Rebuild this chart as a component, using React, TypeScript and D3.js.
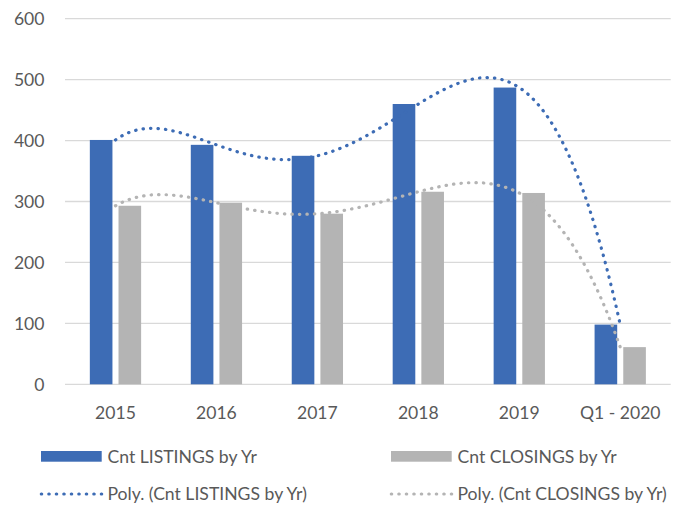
import React from "react";
import * as d3 from "d3";

const categories = ["2015", "2016", "2017", "2018", "2019", "Q1 - 2020"];
const listings = [401, 393, 375, 460, 487, 98];
const closings = [293, 298, 280, 316, 314, 61];
const yTicks = [0, 100, 200, 300, 400, 500, 600];
const legendLabels = [
  "Cnt LISTINGS by Yr",
  "Cnt CLOSINGS by Yr",
  "Poly. (Cnt LISTINGS by Yr)",
  "Poly. (Cnt CLOSINGS by Yr)",
];

const W = 687;
const H = 506;
const BLUE = "#3d6cb5";
const GRAY = "#b4b4b4";
const FONT = "Lato, 'Open Sans', sans-serif";
const TEXT = "#595959";

// Excel-style polynomial trendline of order 5 (least squares on 6 points = interpolation)
function polyFit(ys: number[], order: number) {
  const n = ys.length;
  const m = order + 1;
  const xs = ys.map((_, i) => i + 1);
  // normal equations
  const A: number[][] = [];
  const b: number[] = [];
  for (let r = 0; r < m; r++) {
    A.push([]);
    for (let c = 0; c < m; c++) {
      let s = 0;
      for (let i = 0; i < n; i++) s += Math.pow(xs[i], r + c);
      A[r].push(s);
    }
    let s = 0;
    for (let i = 0; i < n; i++) s += ys[i] * Math.pow(xs[i], r);
    b.push(s);
  }
  // gaussian elimination
  for (let i = 0; i < m; i++) {
    let p = i;
    for (let k = i + 1; k < m; k++) if (Math.abs(A[k][i]) > Math.abs(A[p][i])) p = k;
    [A[i], A[p]] = [A[p], A[i]];
    [b[i], b[p]] = [b[p], b[i]];
    for (let k = i + 1; k < m; k++) {
      const f = A[k][i] / A[i][i];
      for (let c = i; c < m; c++) A[k][c] -= f * A[i][c];
      b[k] -= f * b[i];
    }
  }
  const coef = new Array(m).fill(0);
  for (let i = m - 1; i >= 0; i--) {
    let s = b[i];
    for (let c = i + 1; c < m; c++) s -= A[i][c] * coef[c];
    coef[i] = s / A[i][i];
  }
  return (x: number) => coef.reduce((acc, a, k) => acc + a * Math.pow(x, k), 0);
}

export default function App() {
  const plotLeft = 65;
  const plotRight = 670.7;
  const x = d3.scaleBand<string>().domain(categories).range([plotLeft, plotRight]).padding(0);
  const y = d3.scaleLinear().domain([0, 600]).range([384.3, 18.7]);
  const bw = x.bandwidth() * 0.224;
  const gap = x.bandwidth() * 0.03;
  const center = (c: string) => (x(c) as number) + x.bandwidth() / 2;
  const idxToX = d3
    .scaleLinear()
    .domain([1, categories.length])
    .range([center(categories[0]), center(categories[categories.length - 1])]);

  const samples = d3.range(0, 301).map((i) => 1 + (i / 300) * (categories.length - 1));
  const trend = (vals: number[]) => {
    const f = polyFit(vals, 5);
    return d3
      .line<number>()
      .x((t) => idxToX(t))
      .y((t) => y(f(t)))(samples) as string;
  };

  const dotStyle = { strokeWidth: 3.2, strokeDasharray: "0.4 7.1", strokeLinecap: "round" as const, fill: "none" };

  return (
    <svg
      width={W}
      height={H}
      style={{ position: "absolute", left: 0, top: 0, background: "#fff" }}
      fontFamily={FONT}
    >
      <rect x={0} y={0} width={W} height={H} fill="#fff" />
      {yTicks.map((t) => (
        <g key={t}>
          <line x1={plotLeft} x2={plotRight} y1={y(t)} y2={y(t)} stroke="#d9d9d9" strokeWidth={1.3} />
          <text x={44.5} y={y(t) + 6.3} textAnchor="end" fontSize={17.6} fill={TEXT}>
            {t}
          </text>
        </g>
      ))}
      {categories.map((c, i) => (
        <g key={c}>
          <rect
            x={center(c) - gap - bw}
            y={y(listings[i])}
            width={bw}
            height={y(0) - y(listings[i])}
            fill={BLUE}
          />
          <rect
            x={center(c) + gap}
            y={y(closings[i])}
            width={bw}
            height={y(0) - y(closings[i])}
            fill={GRAY}
          />
          <text x={center(c)} y={419.3} textAnchor="middle" fontSize={17.6} fill={TEXT}>
            {c}
          </text>
        </g>
      ))}
      <path d={trend(listings)} stroke={BLUE} {...dotStyle} />
      <path d={trend(closings)} stroke={GRAY} {...dotStyle} />

      {/* legend */}
      <rect x={41} y={451} width={60.7} height={10.7} fill={BLUE} />
      <text x={107.5} y={462.5} fontSize={17.6} fill={TEXT}>
        {legendLabels[0]}
      </text>
      <rect x={391} y={451} width={60.7} height={10.7} fill={GRAY} />
      <text x={457.5} y={462.5} fontSize={17.6} fill={TEXT}>
        {legendLabels[1]}
      </text>
      <line x1={41.3} x2={101.7} y1={494} y2={494} stroke={BLUE} {...dotStyle} />
      <text x={107.5} y={500.3} fontSize={17.6} fill={TEXT}>
        {legendLabels[2]}
      </text>
      <line x1={391.3} x2={451.7} y1={494} y2={494} stroke={GRAY} {...dotStyle} />
      <text x={457.5} y={500.3} fontSize={17.6} fill={TEXT}>
        {legendLabels[3]}
      </text>
    </svg>
  );
}
